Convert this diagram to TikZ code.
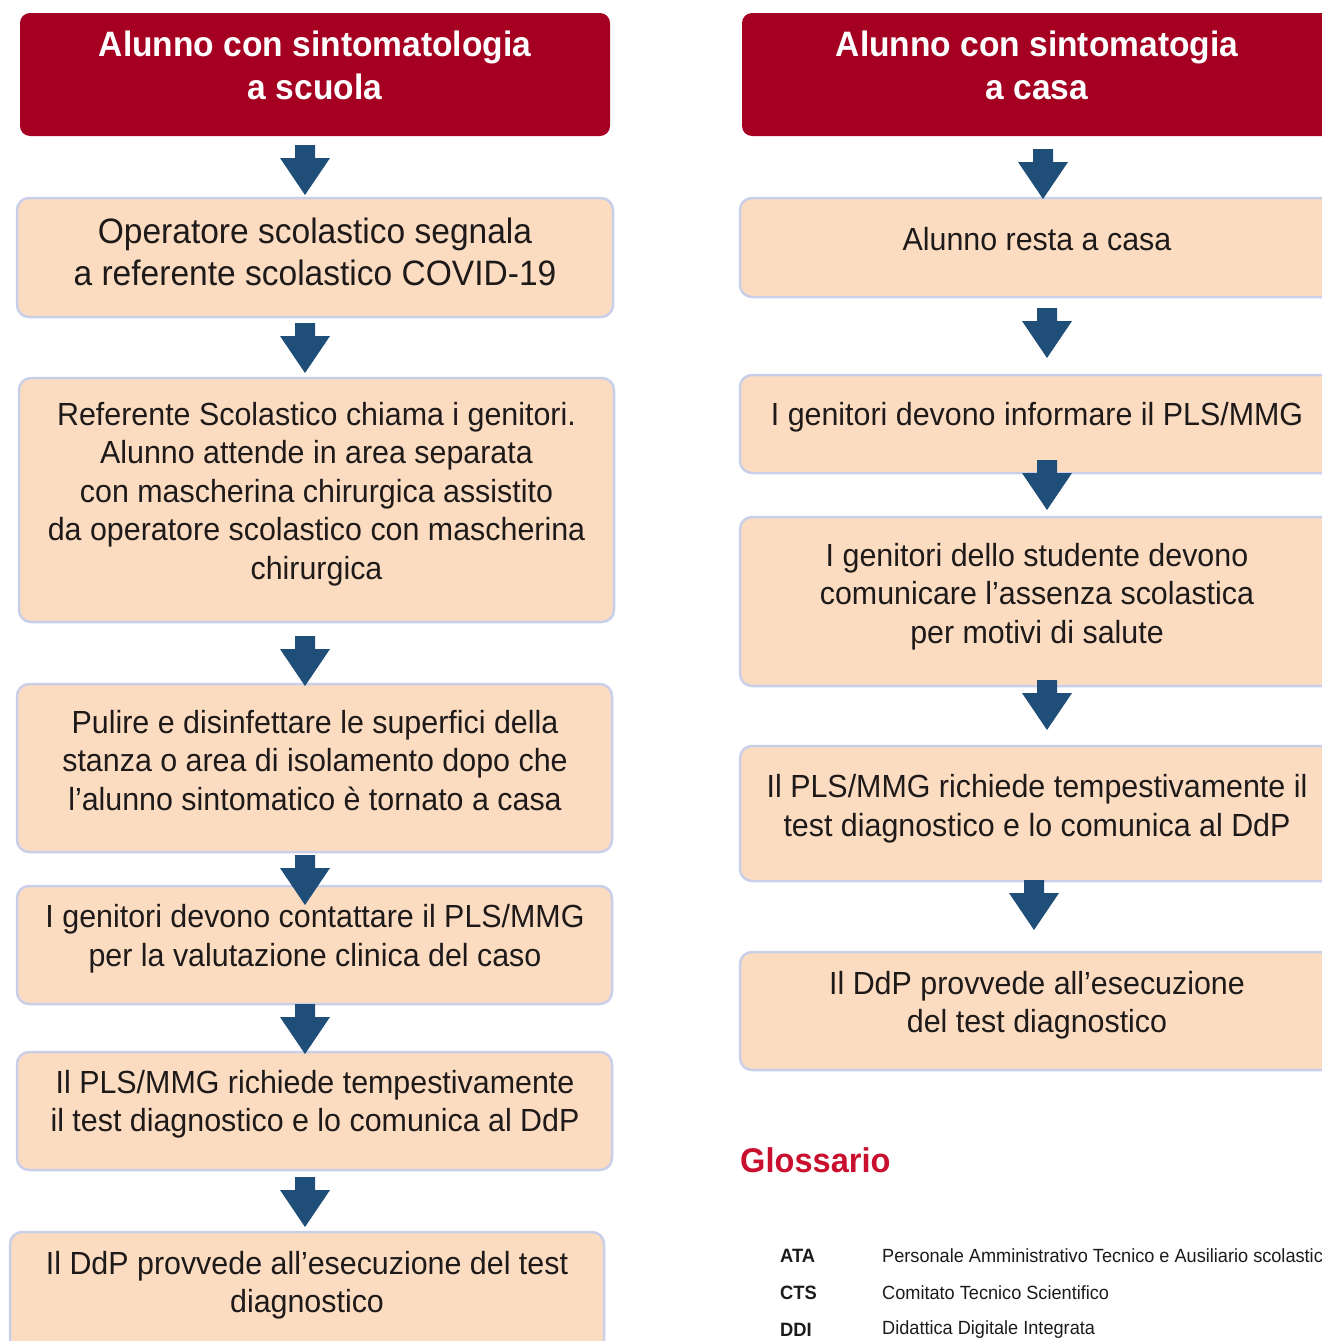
\documentclass[tikz,border=0pt]{standalone}
\usepackage{fontspec}
\setmainfont[FakeStretch=0.95]{Liberation Sans}
\definecolor{peach}{HTML}{FCDCC1}
\definecolor{bordc}{HTML}{C9CFE8}
\definecolor{hdrred}{HTML}{A50021}
\definecolor{arrowc}{HTML}{1F4E79}
\definecolor{glossred}{HTML}{C8102E}
\definecolor{txtc}{HTML}{1E1A1A}
\tikzset{
  stepbox/.style={draw=bordc, line width=2.5pt, fill=peach, rounded corners=12pt, inner sep=0pt},
  hdrbox/.style={fill=hdrred, rounded corners=10pt, inner sep=0pt},
  txt/.style={align=center, text=txtc, font=\fontsize{32}{38.5}\selectfont, inner sep=0pt},
  bigtxt/.style={align=center, text=txtc, font=\fontsize{35.3}{42}\selectfont, inner sep=0pt},
  hdrtxt/.style={align=center, text=white, font=\bfseries\fontsize{35.3}{43}\selectfont, inner sep=0pt},
  glossabbr/.style={anchor=west, text=txtc, font=\bfseries\fontsize{19.3}{24}\selectfont, inner sep=0pt},
  glossdesc/.style={anchor=west, text=txtc, font=\fontsize{19.1}{24}\selectfont, inner sep=0pt},
  barrow/.pic={\fill[arrowc] (-10,0) -- (10,0) -- (10,13) -- (25,13) -- (0,50) -- (-25,13) -- (-10,13) -- cycle;}
}
\begin{document}
\begin{tikzpicture}[x=1pt,y=-1pt]
\useasboundingbox (0,0) rectangle (1322,1341);
\clip (0,0) rectangle (1322,1341);
% ---------- left column ----------
\node[hdrbox, minimum width=590pt, minimum height=123pt] (L1) at (315,74.5) {};
\node[hdrtxt] (L1t) at (315,65.5) {Alunno con sintomatologia\\a scuola};

\node[stepbox, minimum width=596pt, minimum height=119pt] (L2) at (315,257.5) {};
\node[bigtxt] (L2t) at (315,252) {Operatore scolastico segnala\\a referente scolastico COVID-19};

\node[stepbox, minimum width=595pt, minimum height=244pt] (L3) at (316.5,500) {};
\node[txt] (L3t) at (316.5,494) {Referente Scolastico chiama i genitori.\\Alunno attende in area separata\\con mascherina chirurgica assistito\\da operatore scolastico con mascherina\\chirurgica};

\node[stepbox, minimum width=595pt, minimum height=168pt] (L4) at (314.5,768) {};
\node[txt] (L4t) at (315,760.5) {Pulire e disinfettare le superfici della\\stanza o area di isolamento dopo che\\l’alunno sintomatico è tornato a casa};

\node[stepbox, minimum width=595pt, minimum height=118pt] (L5) at (314.5,945) {};
\node[txt] (L5t) at (315,938.5) {I genitori devono contattare il PLS/MMG\\per la valutazione clinica del caso};

\node[stepbox, minimum width=595pt, minimum height=118pt] (L6) at (314.5,1111) {};
\node[txt] (L6t) at (315,1104) {Il PLS/MMG richiede tempestivamente\\il test diagnostico e lo comunica al DdP};

\node[stepbox, minimum width=594pt, minimum height=130pt] (L7) at (307,1297) {};
\node[txt] (L7t) at (307,1285) {Il DdP provvede all’esecuzione del test\\diagnostico};

\pic (La1) at (305,145) {barrow};
\pic (La2) at (305,323) {barrow};
\pic (La3) at (305,636) {barrow};
\pic (La4) at (305,855) {barrow};
\pic (La5) at (305,1004) {barrow};
\pic (La6) at (305,1177) {barrow};

% ---------- right column ----------
\node[hdrbox, minimum width=598pt, minimum height=123pt] (R1) at (1041,74.5) {};
\node[hdrtxt] (R1t) at (1037,65.5) {Alunno con sintomatogia\\a casa};

\node[stepbox, minimum width=595pt, minimum height=99pt] (R2) at (1037.5,247.5) {};
\node[txt] (R2t) at (1037,239) {Alunno resta a casa};

\node[stepbox, minimum width=595pt, minimum height=98pt] (R3) at (1037.5,424) {};
\node[txt] (R3t) at (1037,417) {I genitori devono informare il PLS/MMG};

\node[stepbox, minimum width=595pt, minimum height=169pt] (R4) at (1037.5,601.5) {};
\node[txt] (R4t) at (1037,596.5) {I genitori dello studente devono\\comunicare l’assenza scolastica\\per motivi di salute};

\node[stepbox, minimum width=595pt, minimum height=135pt] (R5) at (1037.5,813.5) {};
\node[txt] (R5t) at (1037,808.5) {Il PLS/MMG richiede tempestivamente il\\test diagnostico e lo comunica al DdP};

\node[stepbox, minimum width=595pt, minimum height=118pt] (R6) at (1037.5,1011) {};
\node[txt] (R6t) at (1037,1005) {Il DdP provvede all’esecuzione\\del test diagnostico};

\pic (Ra1) at (1043,149) {barrow};
\pic (Ra2) at (1047,308) {barrow};
\pic (Ra3) at (1047,460) {barrow};
\pic (Ra4) at (1047,680) {barrow};
\pic (Ra5) at (1034,880) {barrow};

% ---------- glossary ----------
\node[anchor=west, text=glossred, font=\bfseries\fontsize{34.3}{40}\selectfont, inner sep=0pt] (G) at (740,1160) {Glossario};
\node[glossabbr] (G1a) at (780,1256) {ATA};
\node[glossdesc] (G1d) at (882,1256) {Personale Amministrativo Tecnico e Ausiliario scolastico};
\node[glossabbr] (G2a) at (780,1293) {CTS};
\node[glossdesc] (G2d) at (882,1293) {Comitato Tecnico Scientifico};
\node[glossabbr] (G3a) at (780,1330) {DDI};
\node[glossdesc] (G3d) at (882,1330) {Didattica Digitale Integrata};
\end{tikzpicture}
\end{document}
